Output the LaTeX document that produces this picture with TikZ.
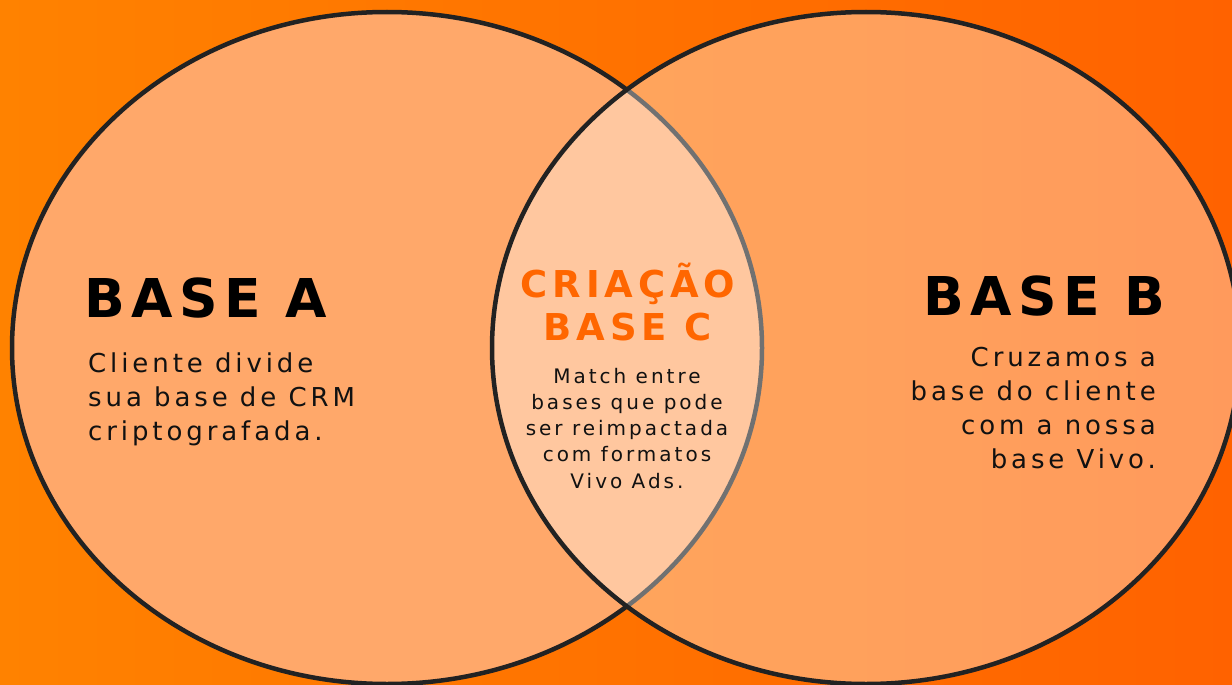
\documentclass[tikz,border=0pt]{standalone}
\usepackage{fontspec}
\setmainfont{DejaVu Sans}
\newfontfamily\ttlfont{DejaVu Sans}[LetterSpace=12]
\newfontfamily\midfont{DejaVu Sans}[LetterSpace=13]
\newfontfamily\bodyfont{DejaVu Sans}[LetterSpace=15]
\newfontfamily\bodycfont{DejaVu Sans}[LetterSpace=15]
\definecolor{bgL}{RGB}{255,130,0}
\definecolor{bgR}{RGB}{255,98,0}
\definecolor{ring}{RGB}{34,34,34}
\definecolor{fillA}{RGB}{255,168,106}
\definecolor{accent}{RGB}{255,102,0}
\definecolor{ink}{RGB}{17,17,17}
\tikzset{
  ringline/.style={draw=ring, line width=4.5pt},
  title/.style={font=\ttlfont\bfseries\fontsize{53.5}{60}\selectfont, text=black, inner sep=0pt},
  midtitle/.style={font=\midfont\bfseries\fontsize{37}{43}\selectfont, text=accent, inner sep=0pt, align=center},
  bodyL/.style={font=\bodyfont\fontsize{26}{34}\selectfont, text=ink, inner sep=0pt},
  bodyC/.style={font=\bodycfont\fontsize{20}{26.2}\selectfont, text=ink, inner sep=0pt, align=center},
}
\begin{document}
\begin{tikzpicture}[x=1pt,y=-1pt]
\useasboundingbox (0,0) rectangle (1232,685);
\shade[left color=bgL, right color=bgR] (0,0) rectangle (1232,685);
% left set
\fill[fillA] (387,348) ellipse [x radius=375pt, y radius=336pt];
\draw[ringline] (387,348) ellipse [x radius=375pt, y radius=336pt];
% right set
\fill[white, fill opacity=0.36] (866,348) ellipse [x radius=374pt, y radius=336pt];
\draw[ringline] (866,348) ellipse [x radius=374pt, y radius=336pt];
% texts (base anchor = baseline of last line)
\node[title, anchor=base west] (ta) at (84,317) {BASE A};
\node[bodyL, align=left, anchor=base west] (da) at (88,440) {Cliente divide\\sua base de CRM\\criptografada.};
\node[title, anchor=base east] (tb) at (1166,315) {BASE B};
\node[bodyL, align=right, anchor=base east] (db) at (1156,468) {Cruzamos a\\base do cliente\\com a nossa\\base Vivo.};
\node[midtitle, anchor=base] (tc) at (628,340) {CRIAÇÃO\\BASE C};
\node[bodyC, anchor=base] (dc) at (627,488) {Match entre\\bases que pode\\ser reimpactada\\com formatos\\Vivo Ads.};
\end{tikzpicture}
\end{document}
